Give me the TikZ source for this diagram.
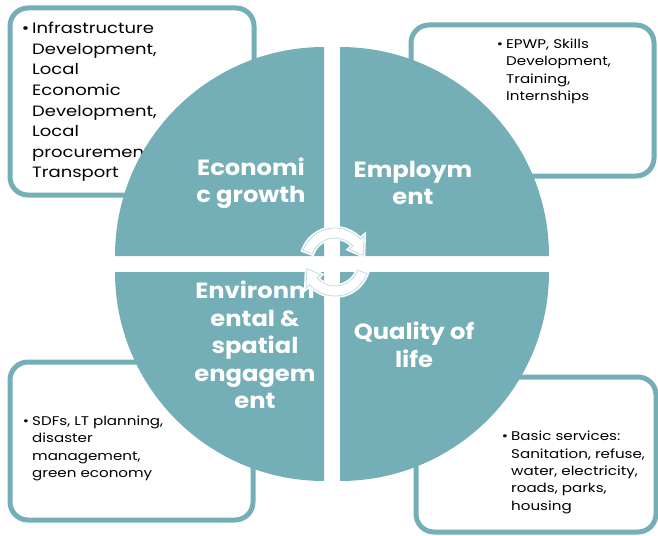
\documentclass[tikz,border=0pt]{standalone}
\usepackage{fontspec}
\setmainfont{Poppins}
\newfontfamily\itemfont{Poppins}[FakeStretch=1.2]
\newfontfamily\sectorfont{Poppins}[FakeStretch=1.1]
\usetikzlibrary{calc}

\definecolor{cycleteal}{RGB}{116,174,182}
\definecolor{arrowrim}{RGB}{200,222,226}

\tikzset{
  infobox/.style={draw=cycleteal,line width=5pt,rounded corners=18pt},
  sector/.style={fill=cycleteal},
  itemtext/.style={anchor=north west,inner sep=0pt,align=left,text=black},
  sectortext/.style={inner sep=0pt,align=center,text=white,
    font=\sectorfont\bfseries\fontsize{22}{27.5}\selectfont},
  turnarrow/.style={fill=white,draw=arrowrim,line width=0.9pt,
    preaction={draw=white,line width=4pt}}
}

\begin{document}
\begin{tikzpicture}[x={(1pt,0pt)},y={(0pt,-1pt)}]
  \useasboundingbox (0,0) rectangle (658,535);

  % boxes round the cycle
  \draw[infobox] (10,8) rectangle (254,195);
  \draw[infobox] (411,25) rectangle (654,176);
  \draw[infobox] (10,362) rectangle (253,520);
  \draw[infobox] (416,377) rectangle (656,532);

  \node[itemtext,font=\itemfont\fontsize{15}{20.6}\selectfont] (infra) at (32,22)
    {\llap{\textbullet\hspace{3pt}}Infrastructure\\Development,\\Local\\Economic\\Development,\\Local\\procurement,\\Transport};
  \node[itemtext,font=\itemfont\fontsize{12.6}{17.4}\selectfont] (epwp) at (506,38.7)
    {\llap{\textbullet\hspace{3pt}}EPWP, Skills\\Development,\\Training,\\Internships};
  \node[itemtext,font=\itemfont\fontsize{12.6}{17.4}\selectfont] (sdf) at (32,415.7)
    {\llap{\textbullet\hspace{3pt}}SDFs, LT planning,\\disaster\\management,\\green economy};
  \node[itemtext,font=\itemfont\fontsize{12.6}{17.4}\selectfont] (basic) at (511,431)
    {\llap{\textbullet\hspace{3pt}}Basic services:\\Sanitation, refuse,\\water, electricity,\\roads, parks,\\housing};

  % the four quarters
  \fill[sector] (324,256) -- ++(180:209) arc[start angle=180,end angle=270,radius=209] -- cycle;
  \fill[sector] (340,256) -- ++(270:209) arc[start angle=270,end angle=360,radius=209] -- cycle;
  \fill[sector] (340,272) -- ++(0:209) arc[start angle=0,end angle=90,radius=209] -- cycle;
  \fill[sector] (324,272) -- ++(90:209) arc[start angle=90,end angle=180,radius=209] -- cycle;

  \node[sectortext] (econ) at (251,183) {Economi\\c growth};
  \node[sectortext] (employ) at (413,183) {Employm\\ent};
  \node[sectortext] (environ) at (255,345) {Environm\\ental \&\\spatial\\engagem\\ent};
  \node[sectortext] (quality) at (414,345) {Quality of\\life};

  % turning arrows in the middle
  \coordinate (hub) at (335,262);
  \draw[turnarrow] ($(hub)+(200:34)$) arc[start angle=200,end angle=318,radius=34]
    -- ($(hub)+(318:39)$) -- ($(hub)+(347:29)$) -- ($(hub)+(318:19)$)
    -- ($(hub)+(318:24)$) arc[start angle=318,end angle=200,radius=24] -- cycle;
  \draw[turnarrow] ($(hub)+(20:34)$) arc[start angle=20,end angle=138,radius=34]
    -- ($(hub)+(138:39)$) -- ($(hub)+(167:29)$) -- ($(hub)+(138:19)$)
    -- ($(hub)+(138:24)$) arc[start angle=138,end angle=20,radius=24] -- cycle;
\end{tikzpicture}
\end{document}
